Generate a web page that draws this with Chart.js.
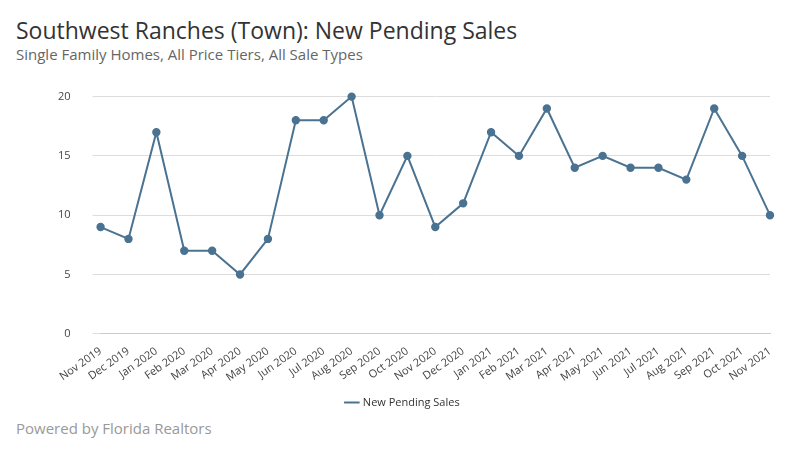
<!DOCTYPE html>
<html>
<head>
<meta charset="utf-8">
<script src="https://cdn.jsdelivr.net/npm/chart.js@4"></script>
<style>
  body { margin: 0; width: 800px; height: 450px; background: #fff; font-family: "Open Sans", sans-serif; position: relative; overflow: hidden; }
  #title { position: absolute; left: 16px; top: 14px; font-size: 23px; color: #333; }
  #subtitle { position: absolute; left: 16px; top: 44px; font-size: 15px; color: #666; }
  #footer { position: absolute; left: 16px; top: 418px; font-size: 15px; color: #999; }
  #wrap { position: absolute; left: 0; top: 68px; width: 800px; height: 350px; }
</style>
</head>
<body>
<div id="title">Southwest Ranches (Town): New Pending Sales</div>
<div id="subtitle">Single Family Homes, All Price Tiers, All Sale Types</div>
<div id="wrap"><canvas id="chart"></canvas></div>
<div id="footer">Powered by Florida Realtors</div>
<script>
'use strict';

var months = ['Nov 2019', 'Dec 2019', 'Jan 2020', 'Feb 2020', 'Mar 2020', 'Apr 2020', 'May 2020', 'Jun 2020',
    'Jul 2020', 'Aug 2020', 'Sep 2020', 'Oct 2020', 'Nov 2020', 'Dec 2020', 'Jan 2021', 'Feb 2021', 'Mar 2021',
    'Apr 2021', 'May 2021', 'Jun 2021', 'Jul 2021', 'Aug 2021', 'Sep 2021', 'Oct 2021', 'Nov 2021'];
var pendingSales = [9, 8, 17, 7, 7, 5, 8, 18, 18, 20, 10, 15, 9, 11, 17, 15, 19, 14, 15, 14, 14, 13, 19, 15, 10];
var yTicks = [0, 5, 10, 15, 20];

var lineColor = '#4a7291';

new Chart(document.getElementById('chart'), {
    type: 'line',
    data: {
        labels: months,
        datasets: [{
            label: 'New Pending Sales',
            data: pendingSales,
            borderColor: lineColor,
            backgroundColor: lineColor,
            borderWidth: 2,
            pointRadius: 3.2,
            tension: 0,
            clip: false
        }]
    },
    options: {
        responsive: true,
        maintainAspectRatio: false,
        animation: false,
        layout: { padding: { left: 36, right: 30, top: 12 } },
        plugins: {
            legend: {
                position: 'bottom',
                labels: { usePointStyle: true, pointStyle: 'line', boxWidth: 22, color: '#333', font: { size: 11, family: 'Open Sans' } }
            },
            tooltip: { enabled: false }
        },
        scales: {
            x: {
                offset: false,
                grid: { display: false },
                border: { color: '#ccc' },
                ticks: { maxRotation: 35, minRotation: 35, color: '#444', font: { size: 11, family: 'Open Sans' }, autoSkip: false }
            },
            y: {
                min: 0,
                max: 20,
                afterBuildTicks: function(axis) { axis.ticks = yTicks.map(v => ({ value: v })); },
                grid: { color: '#ddd' },
                border: { display: false },
                ticks: { color: '#444', padding: 22, font: { size: 11, family: 'Open Sans' } }
            }
        }
    }
});
</script>
</body>
</html>
